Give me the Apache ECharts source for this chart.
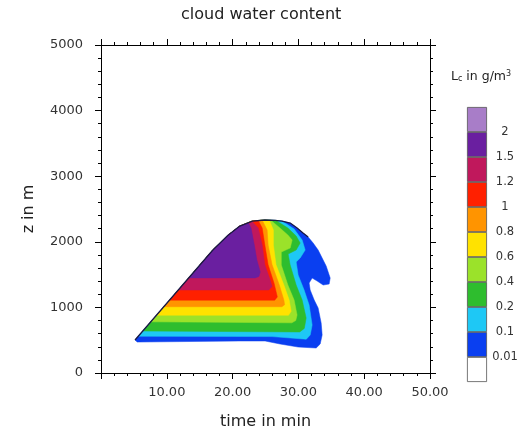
<!DOCTYPE html>
<html>
<head>
<meta charset="utf-8">
<script src="https://cdn.jsdelivr.net/npm/echarts@6/dist/echarts.min.js"></script>
<style>html,body{margin:0;padding:0;background:#fff}#c{width:532px;height:435px}</style>
</head>
<body>
<div id="c"></div>
<script>
// ---- data (time in min, z in m) ----
const levelTicks = ['0.01', '0.1', '0.2', '0.4', '0.6', '0.8', '1', '1.2', '1.5', '2'];
const levels = [0.01, 0.1, 0.2, 0.4, 0.6, 0.8, 1.0, 1.2, 1.5];

const region001 = [[5.17,503],[17.0,1875],[19.3,2100],[21.1,2240],[23.0,2316],[24.9,2332],[26.5,2326],[27.5,2316],[28.75,2286],[29.8,2210],[30.7,2134],[31.48,2073],[32.24,1981],[33.0,1875],[34.22,1631],[34.83,1448],[34.67,1356],[33.76,1341],[32.85,1402],[32.09,1448],[31.63,1372],[31.79,1265],[32.4,1113],[33.0,991],[33.46,762],[33.61,579],[33.31,442],[32.7,381],[29.96,396],[27.22,442],[24.94,488],[21.14,488],[5.5,472]];
const region01 = [[5.7,560],[17.0,1875],[19.3,2100],[21.1,2240],[23.0,2316],[24.9,2332],[26.5,2326],[27.5,2316],[29.35,2195],[30.57,2027],[31.03,1875],[30.27,1753],[29.66,1692],[29.96,1494],[30.87,1265],[31.63,1036],[32.09,732],[31.8,580],[31.2,515],[26.0,555]];
const region02 = [[6.4,640],[17.0,1875],[19.3,2100],[21.1,2240],[23.0,2316],[24.9,2332],[26.6,2325],[28.4,2210],[29.66,2088],[30.27,1981],[29.66,1875],[28.44,1814],[28.75,1646],[29.66,1341],[30.57,1113],[31.18,838],[30.9,680],[30.2,625]];
const region04 = [[7.6,780],[17.0,1875],[19.3,2100],[21.1,2240],[23.0,2316],[24.9,2332],[25.8,2330],[27.2,2210],[28.4,2103],[29.05,2027],[28.75,1905],[27.4,1844],[27.4,1646],[28.4,1341],[29.35,1113],[29.8,884],[29.6,800],[29.0,765]];
const region06 = [[8.46,880],[17.0,1875],[19.3,2100],[21.1,2240],[23.0,2316],[24.9,2332],[25.6,2325],[26.2,2180],[26.2,1950],[26.6,1650],[27.8,1340],[28.6,1113],[28.9,940],[28.5,880]];
const region08 = [[9.58,1010],[17.0,1875],[19.3,2100],[21.1,2240],[23.0,2316],[24.5,2330],[25.25,2180],[25.4,1950],[26.0,1650],[27.1,1340],[27.8,1110],[27.9,1040],[27.5,1010]];
const region10 = [[10.44,1110],[17.0,1875],[19.3,2100],[21.1,2240],[23.0,2316],[23.9,2324],[24.5,2210],[24.9,1950],[25.4,1650],[26.3,1370],[26.8,1160],[26.4,1110]];
const region12 = [[11.77,1265],[17.0,1875],[19.3,2100],[21.1,2240],[23.0,2305],[23.9,2210],[24.5,1950],[24.9,1650],[25.7,1420],[26.0,1320],[25.5,1265]];
const region15 = [[13.35,1450],[17.0,1875],[19.3,2100],[21.1,2240],[22.4,2286],[22.8,2210],[23.3,1950],[23.7,1720],[24.2,1540],[24.0,1470],[23.4,1450]];
const edgeLine = [[5.17,503],[17.0,1875],[19.3,2100],[21.1,2240],[23.0,2316],[24.9,2332],[26.5,2326],[27.5,2316],[28.75,2286],[29.8,2210],[30.7,2134],[31.48,2073]];
const regions = [region001, region01, region02, region04, region06, region08, region10, region12, region15];

// colour scale, lowest (below 0.01) to highest (above 2)
const colors = ['#ffffff','#0a3ff0','#1ec8f5','#2ebd2e','#9be22a','#ffe200','#ff9400','#ff2000','#c0185c','#6a1fa0','#a87dc8'];

const chart = echarts.init(document.getElementById('c'));
const axisCommon = {
  axisLine: {onZero: false, lineStyle: {color: '#000', width: 1}},
  axisTick: {length: 6, lineStyle: {color: '#000'}},
  minorTick: {show: true, splitNumber: 5, length: 3, lineStyle: {color: '#000'}},
  splitLine: {show: false}
};
const font = 'DejaVu Sans';

const cbSeries = colors.map((c, i) => ({
  type: 'bar', xAxisIndex: 1, yAxisIndex: 1, stack: 'cb', barWidth: '100%',
  data: [1], silent: true,
  itemStyle: {color: c, borderColor: '#555', borderWidth: 0.8}
}));

chart.setOption({
  animation: false,
  title: [
    {text: 'cloud water content', left: 181, top: 7, padding: 0,
     textStyle: {fontFamily: font, fontSize: 16, fontWeight: 'normal', color: '#222'}},
    {text: 'L{s|c} in g/m{p|3}', left: 446, top: 65,
     textStyle: {fontFamily: font, fontSize: 12.5, fontWeight: 'normal', color: '#222',
       rich: {s: {fontSize: 8, verticalAlign: 'bottom', padding: [5,0,0,0], fontFamily: font, color: '#222'},
              p: {fontSize: 8, verticalAlign: 'top', padding: [0,0,5,0], fontFamily: font, color: '#222'}}}}
  ],
  grid: [
    {left: 101, top: 45, width: 329, height: 328},
    {left: 467, top: 107, width: 20, height: 275}
  ],
  xAxis: [
    Object.assign({type: 'value', gridIndex: 0, min: 0, max: 50, interval: 10, position: 'bottom',
      name: 'time in min', nameLocation: 'middle', nameGap: 41,
      nameTextStyle: {fontFamily: font, fontSize: 16, color: '#222'},
      axisLabel: {showMinLabel: false, formatter: v => v.toFixed(2), fontFamily: font, fontSize: 13, color: '#333', margin: 13}}, axisCommon),
    {type: 'category', gridIndex: 1, data: ['c'], show: false},
    Object.assign({type: 'value', gridIndex: 0, min: 0, max: 50, interval: 10, position: 'top',
      axisLabel: {show: false}}, axisCommon)
  ],
  yAxis: [
    Object.assign({type: 'value', gridIndex: 0, min: 0, max: 5000, interval: 1000, position: 'left',
      name: 'z in m', nameLocation: 'middle', nameGap: 64,
      nameTextStyle: {fontFamily: font, fontSize: 16, color: '#222'},
      axisLabel: {formatter: v => String(v), fontFamily: font, fontSize: 13, color: '#333', margin: 18}}, axisCommon),
    {type: 'value', gridIndex: 1, min: 0, max: 11, interval: 1, position: 'right',
      axisLine: {show: false}, axisTick: {show: false}, splitLine: {show: false},
      axisLabel: {align: 'center', margin: 18, fontFamily: font, fontSize: 11.5, color: '#333',
        formatter: v => (v >= 1 && v <= 10) ? levelTicks[v - 1] : ''}},
    Object.assign({type: 'value', gridIndex: 0, min: 0, max: 5000, interval: 1000, position: 'right',
      axisLabel: {show: false}}, axisCommon)
  ],
  series: [
    {
      type: 'custom', xAxisIndex: 0, yAxisIndex: 0, silent: true,
      data: regions.map(r => r[0]),
      renderItem: (params, api) => {
        const pts = regions[params.dataIndex].map(p => api.coord(p));
        return {type: 'polygon', shape: {points: pts},
          style: {fill: colors[params.dataIndex + 1], stroke: colors[params.dataIndex + 1], lineWidth: 0.5}};
      }
    },
    {
      type: 'line', xAxisIndex: 0, yAxisIndex: 0, data: edgeLine, showSymbol: false, silent: true,
      lineStyle: {color: '#1a1a45', width: 1.3}
    },
    {type: 'line', xAxisIndex: 2, yAxisIndex: 2, data: [], silent: true}
  ].concat(cbSeries)
});
</script>
</body>
</html>
